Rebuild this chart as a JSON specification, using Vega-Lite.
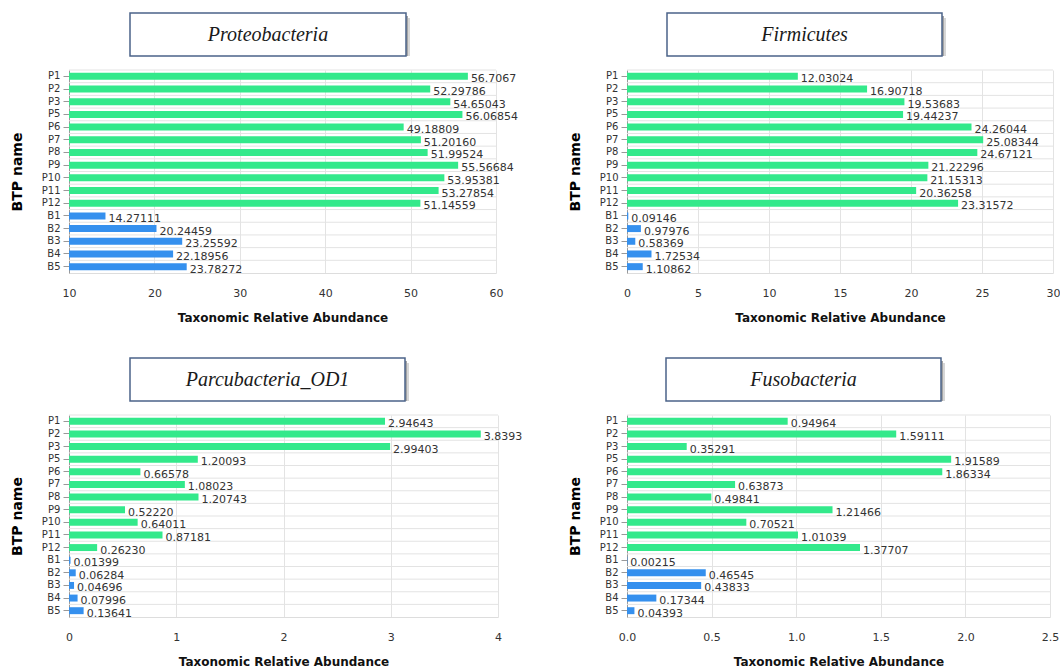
{
  "$schema": "https://vega.github.io/schema/vega-lite/v6.json",
  "padding": {"left": 10, "top": 12, "right": 0, "bottom": 0},
  "background": "white",
  "datasets": {
    "proteobacteria": [
      {"name": "P1", "group": "P", "value": 56.7067, "label": "56.7067"},
      {"name": "P2", "group": "P", "value": 52.29786, "label": "52.29786"},
      {"name": "P3", "group": "P", "value": 54.65043, "label": "54.65043"},
      {"name": "P5", "group": "P", "value": 56.06854, "label": "56.06854"},
      {"name": "P6", "group": "P", "value": 49.18809, "label": "49.18809"},
      {"name": "P7", "group": "P", "value": 51.2016, "label": "51.20160"},
      {"name": "P8", "group": "P", "value": 51.99524, "label": "51.99524"},
      {"name": "P9", "group": "P", "value": 55.56684, "label": "55.56684"},
      {"name": "P10", "group": "P", "value": 53.95381, "label": "53.95381"},
      {"name": "P11", "group": "P", "value": 53.27854, "label": "53.27854"},
      {"name": "P12", "group": "P", "value": 51.14559, "label": "51.14559"},
      {"name": "B1", "group": "B", "value": 14.27111, "label": "14.27111"},
      {"name": "B2", "group": "B", "value": 20.24459, "label": "20.24459"},
      {"name": "B3", "group": "B", "value": 23.25592, "label": "23.25592"},
      {"name": "B4", "group": "B", "value": 22.18956, "label": "22.18956"},
      {"name": "B5", "group": "B", "value": 23.78272, "label": "23.78272"}
    ],
    "firmicutes": [
      {"name": "P1", "group": "P", "value": 12.03024, "label": "12.03024"},
      {"name": "P2", "group": "P", "value": 16.90718, "label": "16.90718"},
      {"name": "P3", "group": "P", "value": 19.53683, "label": "19.53683"},
      {"name": "P5", "group": "P", "value": 19.44237, "label": "19.44237"},
      {"name": "P6", "group": "P", "value": 24.26044, "label": "24.26044"},
      {"name": "P7", "group": "P", "value": 25.08344, "label": "25.08344"},
      {"name": "P8", "group": "P", "value": 24.67121, "label": "24.67121"},
      {"name": "P9", "group": "P", "value": 21.22296, "label": "21.22296"},
      {"name": "P10", "group": "P", "value": 21.15313, "label": "21.15313"},
      {"name": "P11", "group": "P", "value": 20.36258, "label": "20.36258"},
      {"name": "P12", "group": "P", "value": 23.31572, "label": "23.31572"},
      {"name": "B1", "group": "B", "value": 0.09146, "label": "0.09146"},
      {"name": "B2", "group": "B", "value": 0.97976, "label": "0.97976"},
      {"name": "B3", "group": "B", "value": 0.58369, "label": "0.58369"},
      {"name": "B4", "group": "B", "value": 1.72534, "label": "1.72534"},
      {"name": "B5", "group": "B", "value": 1.10862, "label": "1.10862"}
    ],
    "parcubacteria": [
      {"name": "P1", "group": "P", "value": 2.94643, "label": "2.94643"},
      {"name": "P2", "group": "P", "value": 3.8393, "label": "3.8393"},
      {"name": "P3", "group": "P", "value": 2.99403, "label": "2.99403"},
      {"name": "P5", "group": "P", "value": 1.20093, "label": "1.20093"},
      {"name": "P6", "group": "P", "value": 0.66578, "label": "0.66578"},
      {"name": "P7", "group": "P", "value": 1.08023, "label": "1.08023"},
      {"name": "P8", "group": "P", "value": 1.20743, "label": "1.20743"},
      {"name": "P9", "group": "P", "value": 0.5222, "label": "0.52220"},
      {"name": "P10", "group": "P", "value": 0.64011, "label": "0.64011"},
      {"name": "P11", "group": "P", "value": 0.87181, "label": "0.87181"},
      {"name": "P12", "group": "P", "value": 0.2623, "label": "0.26230"},
      {"name": "B1", "group": "B", "value": 0.01399, "label": "0.01399"},
      {"name": "B2", "group": "B", "value": 0.06284, "label": "0.06284"},
      {"name": "B3", "group": "B", "value": 0.04696, "label": "0.04696"},
      {"name": "B4", "group": "B", "value": 0.07996, "label": "0.07996"},
      {"name": "B5", "group": "B", "value": 0.13641, "label": "0.13641"}
    ],
    "fusobacteria": [
      {"name": "P1", "group": "P", "value": 0.94964, "label": "0.94964"},
      {"name": "P2", "group": "P", "value": 1.59111, "label": "1.59111"},
      {"name": "P3", "group": "P", "value": 0.35291, "label": "0.35291"},
      {"name": "P5", "group": "P", "value": 1.91589, "label": "1.91589"},
      {"name": "P6", "group": "P", "value": 1.86334, "label": "1.86334"},
      {"name": "P7", "group": "P", "value": 0.63873, "label": "0.63873"},
      {"name": "P8", "group": "P", "value": 0.49841, "label": "0.49841"},
      {"name": "P9", "group": "P", "value": 1.21466, "label": "1.21466"},
      {"name": "P10", "group": "P", "value": 0.70521, "label": "0.70521"},
      {"name": "P11", "group": "P", "value": 1.01039, "label": "1.01039"},
      {"name": "P12", "group": "P", "value": 1.37707, "label": "1.37707"},
      {"name": "B1", "group": "B", "value": 0.00215, "label": "0.00215"},
      {"name": "B2", "group": "B", "value": 0.46545, "label": "0.46545"},
      {"name": "B3", "group": "B", "value": 0.43833, "label": "0.43833"},
      {"name": "B4", "group": "B", "value": 0.17344, "label": "0.17344"},
      {"name": "B5", "group": "B", "value": 0.04393, "label": "0.04393"}
    ]
  },
  "vconcat": [
    {
      "hconcat": [
        {
          "vconcat": [
            {
              "hconcat": [
                {"width": 60, "height": 43, "data": {"values": [{}]}, "mark": {"type": "rect", "opacity": 0}, "encoding": {}},
                {
                  "width": 276, "height": 43,
                  "data": {"values": [{"phylum": "Proteobacteria"}]},
                  "layer": [
                    {"mark": {"type": "rect", "fill": "#d6d6d6", "xOffset": 4, "x2Offset": 4, "yOffset": 5, "y2Offset": 5}, "encoding": {}},
                    {"mark": {"type": "rect", "fill": "#a4a4a4", "xOffset": 2, "x2Offset": 2, "yOffset": 3, "y2Offset": 3}, "encoding": {}},
                    {"mark": {"type": "rect", "fill": "white", "stroke": "#4b6389", "strokeWidth": 1.5}, "encoding": {}},
                    {"mark": {"type": "text", "font": "Liberation Serif", "fontStyle": "italic", "fontSize": 20, "color": "#1a1a1a"}, "encoding": {"text": {"field": "phylum"}}}
                  ]
                }
              ],
              "spacing": 0
            },
            {
              "width": 427, "height": 203,
              "data": {"name": "proteobacteria"},
              "encoding": {
                "y": {"field": "name", "type": "nominal", "title": "BTP name", "scale": {"domain": ["P1","P2","P3","P5","P6","P7","P8","P9","P10","P11","P12","B1","B2","B3","B4","B5"], "paddingInner": 0, "paddingOuter": 0}}
              },
              "layer": [
                {"mark": {"type": "rule", "color": "#e3e3e3", "strokeWidth": 1},
                 "encoding": {"y": {"field": "name", "type": "nominal", "title": "BTP name", "bandPosition": 0, "scale": {"domain": ["P1","P2","P3","P5","P6","P7","P8","P9","P10","P11","P12","B1","B2","B3","B4","B5"], "paddingInner": 0, "paddingOuter": 0}}}},
                {"mark": {"type": "bar", "height": {"band": 0.55}, "clip": true},
                 "encoding": {
                   "x": {"field": "value", "type": "quantitative", "title": "Taxonomic Relative Abundance", "scale": {"domain": [10, 60], "nice": false, "zero": false}, "axis": {"values": [10, 20, 30, 40, 50, 60], "format": "d"}},
                   "color": {"field": "group", "type": "nominal", "scale": {"domain": ["P", "B"], "range": ["#33E98B", "#3590EE"]}, "legend": null}
                 }},
                {"mark": {"type": "text", "align": "left", "baseline": "middle", "dx": 3, "dy": 3, "fontSize": 11, "color": "#333333"},
                 "encoding": {
                   "x": {"field": "value", "type": "quantitative", "title": "Taxonomic Relative Abundance"},
                   "text": {"field": "label"}
                 }}
              ]
            }
          ],
          "spacing": 12
        },
        {
          "vconcat": [
            {
              "hconcat": [
                {"width": 39, "height": 43, "data": {"values": [{}]}, "mark": {"type": "rect", "opacity": 0}, "encoding": {}},
                {
                  "width": 275, "height": 43,
                  "data": {"values": [{"phylum": "Firmicutes"}]},
                  "layer": [
                    {"mark": {"type": "rect", "fill": "#d6d6d6", "xOffset": 4, "x2Offset": 4, "yOffset": 5, "y2Offset": 5}, "encoding": {}},
                    {"mark": {"type": "rect", "fill": "#a4a4a4", "xOffset": 2, "x2Offset": 2, "yOffset": 3, "y2Offset": 3}, "encoding": {}},
                    {"mark": {"type": "rect", "fill": "white", "stroke": "#4b6389", "strokeWidth": 1.5}, "encoding": {}},
                    {"mark": {"type": "text", "font": "Liberation Serif", "fontStyle": "italic", "fontSize": 20, "color": "#1a1a1a"}, "encoding": {"text": {"field": "phylum"}}}
                  ]
                }
              ],
              "spacing": 0
            },
            {
              "width": 426, "height": 203,
              "data": {"name": "firmicutes"},
              "encoding": {
                "y": {"field": "name", "type": "nominal", "title": "BTP name", "scale": {"domain": ["P1","P2","P3","P5","P6","P7","P8","P9","P10","P11","P12","B1","B2","B3","B4","B5"], "paddingInner": 0, "paddingOuter": 0}}
              },
              "layer": [
                {"mark": {"type": "rule", "color": "#e3e3e3", "strokeWidth": 1},
                 "encoding": {"y": {"field": "name", "type": "nominal", "title": "BTP name", "bandPosition": 0, "scale": {"domain": ["P1","P2","P3","P5","P6","P7","P8","P9","P10","P11","P12","B1","B2","B3","B4","B5"], "paddingInner": 0, "paddingOuter": 0}}}},
                {"mark": {"type": "bar", "height": {"band": 0.55}},
                 "encoding": {
                   "x": {"field": "value", "type": "quantitative", "title": "Taxonomic Relative Abundance", "scale": {"domain": [0, 30], "nice": false}, "axis": {"values": [0, 5, 10, 15, 20, 25, 30], "format": "d"}},
                   "color": {"field": "group", "type": "nominal", "scale": {"domain": ["P", "B"], "range": ["#33E98B", "#3590EE"]}, "legend": null}
                 }},
                {"mark": {"type": "text", "align": "left", "baseline": "middle", "dx": 3, "dy": 3, "fontSize": 11, "color": "#333333"},
                 "encoding": {
                   "x": {"field": "value", "type": "quantitative", "title": "Taxonomic Relative Abundance"},
                   "text": {"field": "label"}
                 }}
              ]
            }
          ],
          "spacing": 12
        }
      ],
      "spacing": 50
    },
    {
      "hconcat": [
        {
          "vconcat": [
            {
              "hconcat": [
                {"width": 60, "height": 43, "data": {"values": [{}]}, "mark": {"type": "rect", "opacity": 0}, "encoding": {}},
                {
                  "width": 275, "height": 43,
                  "data": {"values": [{"phylum": "Parcubacteria_OD1"}]},
                  "layer": [
                    {"mark": {"type": "rect", "fill": "#d6d6d6", "xOffset": 4, "x2Offset": 4, "yOffset": 5, "y2Offset": 5}, "encoding": {}},
                    {"mark": {"type": "rect", "fill": "#a4a4a4", "xOffset": 2, "x2Offset": 2, "yOffset": 3, "y2Offset": 3}, "encoding": {}},
                    {"mark": {"type": "rect", "fill": "white", "stroke": "#4b6389", "strokeWidth": 1.5}, "encoding": {}},
                    {"mark": {"type": "text", "font": "Liberation Serif", "fontStyle": "italic", "fontSize": 20, "color": "#1a1a1a"}, "encoding": {"text": {"field": "phylum"}}}
                  ]
                }
              ],
              "spacing": 0
            },
            {
              "width": 429, "height": 202,
              "data": {"name": "parcubacteria"},
              "encoding": {
                "y": {"field": "name", "type": "nominal", "title": "BTP name", "scale": {"domain": ["P1","P2","P3","P5","P6","P7","P8","P9","P10","P11","P12","B1","B2","B3","B4","B5"], "paddingInner": 0, "paddingOuter": 0}}
              },
              "layer": [
                {"mark": {"type": "rule", "color": "#e3e3e3", "strokeWidth": 1},
                 "encoding": {"y": {"field": "name", "type": "nominal", "title": "BTP name", "bandPosition": 0, "scale": {"domain": ["P1","P2","P3","P5","P6","P7","P8","P9","P10","P11","P12","B1","B2","B3","B4","B5"], "paddingInner": 0, "paddingOuter": 0}}}},
                {"mark": {"type": "bar", "height": {"band": 0.55}},
                 "encoding": {
                   "x": {"field": "value", "type": "quantitative", "title": "Taxonomic Relative Abundance", "scale": {"domain": [0, 4], "nice": false}, "axis": {"values": [0, 1, 2, 3, 4], "format": "d"}},
                   "color": {"field": "group", "type": "nominal", "scale": {"domain": ["P", "B"], "range": ["#33E98B", "#3590EE"]}, "legend": null}
                 }},
                {"mark": {"type": "text", "align": "left", "baseline": "middle", "dx": 3, "dy": 3, "fontSize": 11, "color": "#333333"},
                 "encoding": {
                   "x": {"field": "value", "type": "quantitative", "title": "Taxonomic Relative Abundance"},
                   "text": {"field": "label"}
                 }}
              ]
            }
          ],
          "spacing": 12
        },
        {
          "vconcat": [
            {
              "hconcat": [
                {"width": 38, "height": 43, "data": {"values": [{}]}, "mark": {"type": "rect", "opacity": 0}, "encoding": {}},
                {
                  "width": 275, "height": 43,
                  "data": {"values": [{"phylum": "Fusobacteria"}]},
                  "layer": [
                    {"mark": {"type": "rect", "fill": "#d6d6d6", "xOffset": 4, "x2Offset": 4, "yOffset": 5, "y2Offset": 5}, "encoding": {}},
                    {"mark": {"type": "rect", "fill": "#a4a4a4", "xOffset": 2, "x2Offset": 2, "yOffset": 3, "y2Offset": 3}, "encoding": {}},
                    {"mark": {"type": "rect", "fill": "white", "stroke": "#4b6389", "strokeWidth": 1.5}, "encoding": {}},
                    {"mark": {"type": "text", "font": "Liberation Serif", "fontStyle": "italic", "fontSize": 20, "color": "#1a1a1a"}, "encoding": {"text": {"field": "phylum"}}}
                  ]
                }
              ],
              "spacing": 0
            },
            {
              "width": 423, "height": 202,
              "data": {"name": "fusobacteria"},
              "encoding": {
                "y": {"field": "name", "type": "nominal", "title": "BTP name", "scale": {"domain": ["P1","P2","P3","P5","P6","P7","P8","P9","P10","P11","P12","B1","B2","B3","B4","B5"], "paddingInner": 0, "paddingOuter": 0}}
              },
              "layer": [
                {"mark": {"type": "rule", "color": "#e3e3e3", "strokeWidth": 1},
                 "encoding": {"y": {"field": "name", "type": "nominal", "title": "BTP name", "bandPosition": 0, "scale": {"domain": ["P1","P2","P3","P5","P6","P7","P8","P9","P10","P11","P12","B1","B2","B3","B4","B5"], "paddingInner": 0, "paddingOuter": 0}}}},
                {"mark": {"type": "bar", "height": {"band": 0.55}},
                 "encoding": {
                   "x": {"field": "value", "type": "quantitative", "title": "Taxonomic Relative Abundance", "scale": {"domain": [0, 2.5], "nice": false}, "axis": {"values": [0, 0.5, 1, 1.5, 2, 2.5], "format": ".1f"}},
                   "color": {"field": "group", "type": "nominal", "scale": {"domain": ["P", "B"], "range": ["#33E98B", "#3590EE"]}, "legend": null}
                 }},
                {"mark": {"type": "text", "align": "left", "baseline": "middle", "dx": 3, "dy": 3, "fontSize": 11, "color": "#333333"},
                 "encoding": {
                   "x": {"field": "value", "type": "quantitative", "title": "Taxonomic Relative Abundance"},
                   "text": {"field": "label"}
                 }}
              ]
            }
          ],
          "spacing": 12
        }
      ],
      "spacing": 45
    }
  ],
  "spacing": 34,
  "config": {
    "view": {"stroke": null},
    "font": "DejaVu Sans",
    "axisX": {
      "labelFont": "DejaVu Sans", "labelFontSize": 11, "labelColor": "#333333", "labelPadding": 14,
      "ticks": false, "tickSize": 0, "domainColor": "#dddddd", "gridColor": "#e3e3e3", "grid": true,
      "titleFont": "DejaVu Sans", "titleFontSize": 12, "titleFontWeight": "bold", "titleColor": "#111111", "titlePadding": 14,
      "labelFlush": false
    },
    "axisY": {
      "labelFont": "DejaVu Sans", "labelFontSize": 10, "labelColor": "#333333", "labelPadding": 3,
      "tickColor": "#999999", "tickSize": 6, "domainColor": "#999999", "grid": false,
      "titleFont": "DejaVu Sans", "titleFontSize": 14, "titleFontWeight": "bold", "titleColor": "#000000", "titlePadding": 17
    }
  }
}
